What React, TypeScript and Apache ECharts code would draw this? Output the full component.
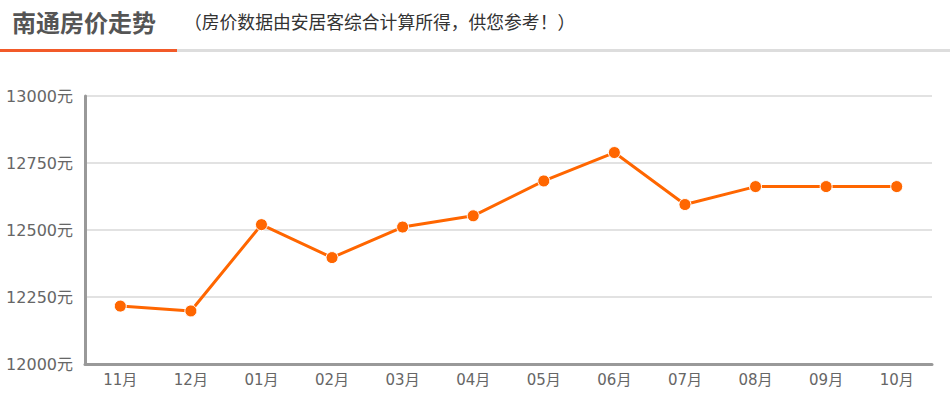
import React, { useEffect, useRef } from 'react';
import * as echarts from 'echarts';

const months = ['11月', '12月', '01月', '02月', '03月', '04月', '05月', '06月', '07月', '08月', '09月', '10月'];
const prices = [12216, 12198, 12520, 12397, 12511, 12553, 12683, 12789, 12595, 12662, 12662, 12662];
const titleText = '南通房价走势';
const subText = '（房价数据由安居客综合计算所得，供您参考！）';

const FONT = '"Noto Sans CJK SC", "Noto Sans", sans-serif';
const AXIS_FONT = '"DejaVu Sans", "Noto Sans CJK SC", sans-serif';

const App: React.FC = () => {
  const chartRef = useRef<HTMLDivElement>(null);

  useEffect(() => {
    if (!chartRef.current) return;
    const chart = echarts.init(chartRef.current, undefined, { renderer: 'svg' });
    chart.setOption({
      animation: false,
      backgroundColor: '#fff',
      textStyle: { fontFamily: FONT },
      graphic: [
        {
          type: 'text',
          left: 12,
          top: 9,
          style: { text: titleText, font: `bold 24px ${FONT}`, fill: '#555' },
        },
        {
          type: 'text',
          left: 184,
          top: 12,
          style: { text: subText, font: `17.8px ${FONT}`, fill: '#333' },
        },
        {
          type: 'rect',
          shape: { x: 177, y: 49, width: 773, height: 3 },
          style: { fill: '#dddddd' },
        },
        {
          type: 'rect',
          shape: { x: 0, y: 49, width: 177, height: 3 },
          style: { fill: '#f25a29' },
        },
      ],
      grid: { left: 85, right: 18, top: 96, bottom: 56 },
      xAxis: {
        type: 'category',
        data: months,
        boundaryGap: true,
        axisLine: { lineStyle: { color: '#999', width: 3 } },
        axisTick: { alignWithLabel: true, length: 6, lineStyle: { color: '#c5d3e3' } },
        axisLabel: { color: '#666', fontSize: 15, margin: 8, fontFamily: AXIS_FONT },
      },
      yAxis: {
        type: 'value',
        min: 12000,
        max: 13000,
        interval: 250,
        axisLine: { show: true, lineStyle: { color: '#999', width: 3 } },
        axisTick: { show: false },
        splitLine: { lineStyle: { color: '#d9d9d9', width: 1.5 } },
        axisLabel: {
          color: '#666',
          fontSize: 16,
          margin: 12,
          formatter: (v: number) => `${v}元`,
          fontFamily: AXIS_FONT,
        },
      },
      series: [
        {
          type: 'line',
          data: prices,
          symbol: 'circle',
          symbolSize: 12,
          lineStyle: { color: '#ff6600', width: 3 },
          itemStyle: { color: '#ff6600', borderColor: '#fff', borderWidth: 1 },
        },
      ],
    });
    return () => chart.dispose();
  }, []);

  return (
    <div
      ref={chartRef}
      style={{ position: 'fixed', left: 0, top: 0, width: 950, height: 420 }}
    />
  );
};

export default App;
